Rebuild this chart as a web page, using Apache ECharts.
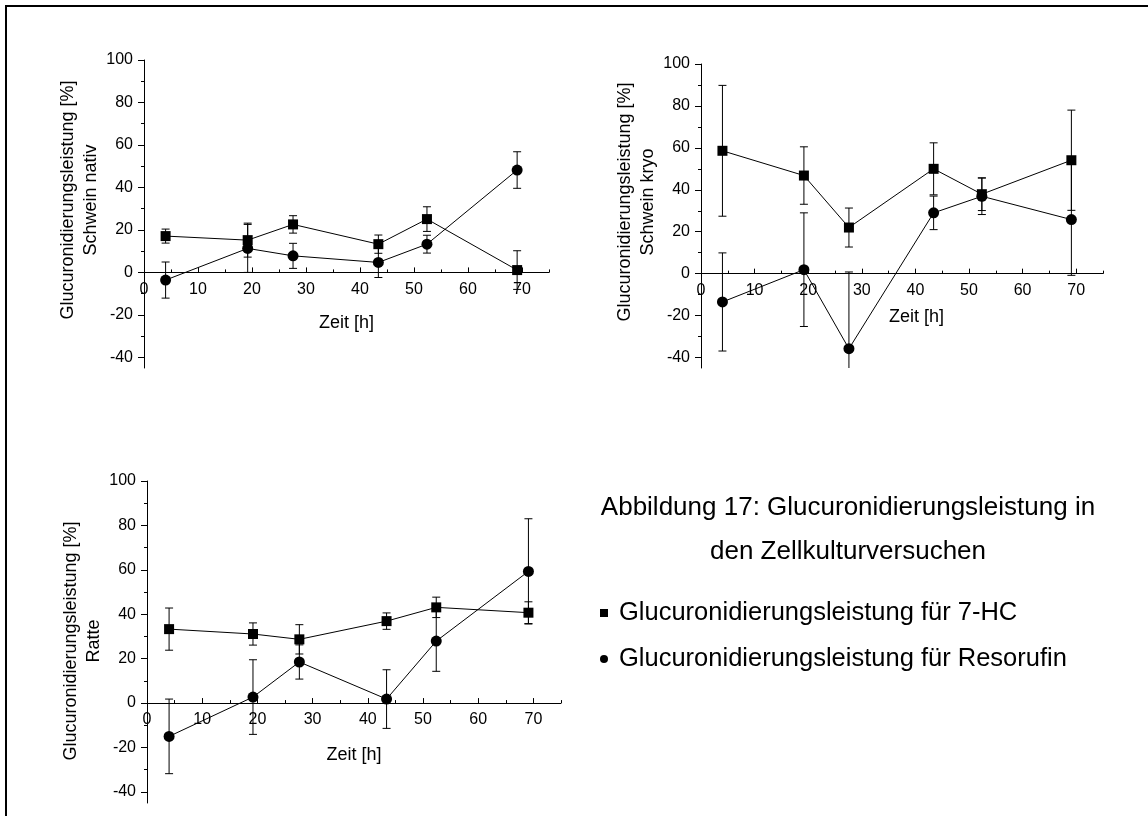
<!DOCTYPE html>
<html>
<head>
<meta charset="utf-8">
<script src="https://cdn.jsdelivr.net/npm/echarts@6/dist/echarts.min.js"></script>
<style>
  html, body { margin: 0; padding: 0; background: #fff; }
  #chart { width: 1148px; height: 816px; }
</style>
</head>
<body>
<div id="chart"></div>
<script>
// ---- data ----
const times = [4, 19.2, 27.6, 43.4, 52.4, 69.1];
const panelNames = ['Schwein nativ', 'Schwein kryo', 'Ratte'];
const seriesNames = ['Glucuronidierungsleistung für 7-HC', 'Glucuronidierungsleistung für Resorufin'];
const yTitle = 'Glucuronidierungsleistung [%]';
const xTitle = 'Zeit [h]';
const caption = 'Abbildung 17: Glucuronidierungsleistung in\nden Zellkulturversuchen';

// Schwein nativ
const hcNativ = [17.1, 15.2, 22.6, 13.3, 25.1, 1.1];
const hcNativErr = [3.3, 8.0, 4.1, 4.3, 5.8, 9.1];
const resNativ = [-3.6, 11.3, 7.8, 4.7, 13.3, 48.2];
const resNativErr = [8.5, 11.3, 5.9, 7.1, 4.2, 8.6];
// Schwein kryo
const hcKryo = [58.6, 46.8, 22.0, 50.0, 37.9, 54.1];
const hcKryoErr = [31.2, 13.7, 9.3, 12.4, 7.8, 23.9];
const resKryo = [-13.5, 1.9, -35.8, 29.0, 36.9, 25.8];
const resKryoErr = [23.4, 27.1, 36.6, 8.0, 8.7, 26.6];
// Ratte
const hcRatte = [33.3, 31.1, 28.7, 36.9, 43.1, 40.7];
const hcRatteErr = [9.5, 5.0, 6.6, 3.7, 4.6, 4.9];
const resRatte = [-15.0, 2.7, 18.5, 1.8, 27.9, 59.3];
const resRatteErr = [16.8, 16.8, 7.7, 13.2, 13.6, 23.7];

// axis ticks
const xLabels = [0, 10, 20, 30, 40, 50, 60, 70];
const xMinor = [5, 15, 25, 35, 45, 55, 65, 75];
const yLabels = [-40, -20, 0, 20, 40, 60, 80, 100];
const yMinor = [-30, -10, 10, 30, 50, 70, 90];
const xRange = [0, 75];
const yRange = [-45, 100];

// ---- chart ----
const FONT = '"Liberation Sans", Arial, sans-serif';
const black = '#000';
const panels = [
  { hc: hcNativ, hcErr: hcNativErr, res: resNativ, resErr: resNativErr },
  { hc: hcKryo, hcErr: hcKryoErr, res: resKryo, resErr: resKryoErr },
  { hc: hcRatte, hcErr: hcRatteErr, res: resRatte, resErr: resRatteErr }
];
const gridRects = [
  { left: 144, top: 60, width: 405, height: 308 },
  { left: 701, top: 64, width: 402, height: 304 },
  { left: 147, top: 481, width: 414, height: 322 }
];
const xNameGap = [42, 34, 43];
const xNamePad = [[0, 0, 0, 0], [0, 0, 0, 29], [0, 0, 0, 0]];
const yNamePad = [[0, 0, 0, 28], [0, 0, 0, 28], [0, 0, 0, 2]];
const yNameGap = [38, 40, 39];

const grids = [], xAxes = [], yAxes = [], series = [];
function addGrid(rect) {
  grids.push(Object.assign({ containLabel: false, outerBoundsMode: 'none' }, rect));
  return grids.length - 1;
}
function hiddenX(g) {
  xAxes.push({ gridIndex: g, type: 'value', min: xRange[0], max: xRange[1], show: false });
  return xAxes.length - 1;
}
function hiddenY(g) {
  yAxes.push({ gridIndex: g, type: 'value', min: yRange[0], max: yRange[1], show: false });
  return yAxes.length - 1;
}

function errorRender(params, api) {
  const x = api.value(0), y = api.value(1), e = api.value(2);
  const top = api.coord([x, y + e]);
  const bot = api.coord([x, y - e]);
  const cs = params.coordSys;
  const yMin = cs.y, yMax = cs.y + cs.height;
  const children = [];
  const t = Math.max(top[1], yMin), b = Math.min(bot[1], yMax);
  const st = { stroke: black, lineWidth: 1 };
  children.push({ type: 'line', shape: { x1: top[0], y1: t, x2: top[0], y2: b }, style: st });
  const hw = 4;
  if (top[1] >= yMin) children.push({ type: 'line', shape: { x1: top[0] - hw, y1: top[1], x2: top[0] + hw, y2: top[1] }, style: st });
  if (bot[1] <= yMax) children.push({ type: 'line', shape: { x1: bot[0] - hw, y1: bot[1], x2: bot[0] + hw, y2: bot[1] }, style: st });
  return { type: 'group', children: children };
}

panels.forEach((p, i) => {
  const r = gridRects[i];
  // height of the part above y = 0 (x axis sits on the zero line)
  const zeroRect = { left: r.left, top: r.top, width: r.width,
    height: r.height * (yRange[1] - 0) / (yRange[1] - yRange[0]) };

  // data grid with main y axis
  const gData = addGrid(r);
  const xi = hiddenX(gData);
  yAxes.push({
    gridIndex: gData, type: 'value', min: yRange[0], max: yRange[1],
    axisLine: { show: true, onZero: false, lineStyle: { color: black, width: 1 } },
    axisTick: { show: true, length: 6, customValues: yLabels, lineStyle: { color: black } },
    axisLabel: { customValues: yLabels, color: black, fontSize: 16, fontFamily: FONT, margin: 11 },
    splitLine: { show: false },
    name: yTitle + '\n' + panelNames[i], nameLocation: 'middle', nameGap: yNameGap[i],
    nameTextStyle: { color: black, fontSize: 18, lineHeight: 23, fontFamily: FONT, align: 'center', padding: yNamePad[i] }
  });
  const yi = yAxes.length - 1;

  // minor y ticks
  const gYMin = addGrid(r);
  hiddenX(gYMin);
  yAxes.push({
    gridIndex: gYMin, type: 'value', min: yRange[0], max: yRange[1],
    axisLine: { show: false, onZero: false },
    axisTick: { show: true, length: 3, customValues: yMinor, lineStyle: { color: black } },
    axisLabel: { show: false }, splitLine: { show: false }
  });

  // x axis on the zero line
  const gX = addGrid(zeroRect);
  hiddenY(gX);
  xAxes.push({
    gridIndex: gX, type: 'value', min: xRange[0], max: xRange[1], position: 'bottom',
    axisLine: { show: true, onZero: false, lineStyle: { color: black, width: 1 } },
    axisTick: { show: true, inside: true, length: 5, customValues: xLabels, lineStyle: { color: black } },
    axisLabel: { customValues: xLabels, color: black, fontSize: 16, fontFamily: FONT, margin: 9 },
    splitLine: { show: false },
    name: xTitle, nameLocation: 'middle', nameGap: xNameGap[i],
    nameTextStyle: { color: black, fontSize: 18, fontFamily: FONT, padding: xNamePad[i] }
  });

  // minor x ticks
  const gXMin = addGrid(zeroRect);
  hiddenY(gXMin);
  xAxes.push({
    gridIndex: gXMin, type: 'value', min: xRange[0], max: xRange[1], position: 'bottom',
    axisLine: { show: false, onZero: false },
    axisTick: { show: true, inside: true, length: 3, customValues: xMinor, lineStyle: { color: black } },
    axisLabel: { show: false }, splitLine: { show: false }
  });

  const hcData = times.map((t, k) => [t, p.hc[k]]);
  const resData = times.map((t, k) => [t, p.res[k]]);
  const hcErrData = times.map((t, k) => [t, p.hc[k], p.hcErr[k]]);
  const resErrData = times.map((t, k) => [t, p.res[k], p.resErr[k]]);
  series.push({
    type: 'custom', name: 'err7hc' + i, xAxisIndex: xi, yAxisIndex: yi,
    renderItem: errorRender, data: hcErrData, z: 2, silent: true
  });
  series.push({
    type: 'custom', name: 'errres' + i, xAxisIndex: xi, yAxisIndex: yi,
    renderItem: errorRender, data: resErrData, z: 2, silent: true
  });
  series.push({
    type: 'line', name: seriesNames[0], xAxisIndex: xi, yAxisIndex: yi, data: hcData,
    symbol: 'rect', symbolSize: 10, showAllSymbol: true,
    lineStyle: { color: black, width: 1 }, itemStyle: { color: black }, z: 3
  });
  series.push({
    type: 'line', name: seriesNames[1], xAxisIndex: xi, yAxisIndex: yi, data: resData,
    symbol: 'circle', symbolSize: 11, showAllSymbol: true,
    lineStyle: { color: black, width: 1 }, itemStyle: { color: black }, z: 3
  });
});

const chart = echarts.init(document.getElementById('chart'), null, { renderer: 'canvas' });
chart.setOption({
  animation: false,
  backgroundColor: '#fff',
  textStyle: { fontFamily: FONT },
  grid: grids,
  xAxis: xAxes,
  yAxis: yAxes,
  legend: {
    orient: 'vertical', left: 600, top: 600, padding: 0,
    itemWidth: 8, itemHeight: 8, itemGap: 20,
    data: [{ name: seriesNames[0], icon: 'rect' }, { name: seriesNames[1], icon: 'circle' }],
    textStyle: { color: black, fontSize: 25.5, fontFamily: FONT, padding: [0, 0, 0, 6] },
    selectedMode: false
  },
  graphic: [
    { type: 'line', shape: { x1: 5, y1: 6, x2: 1148, y2: 6 }, style: { stroke: black, lineWidth: 2 } },
    { type: 'line', shape: { x1: 6, y1: 5, x2: 6, y2: 816 }, style: { stroke: black, lineWidth: 2 } },
    {
      type: 'text', x: 848, y: 530,
      style: { text: caption, fill: black, font: '26px ' + FONT, align: 'center', verticalAlign: 'middle', lineHeight: 44 }
    }
  ],
  series: series
});
</script>
</body>
</html>
